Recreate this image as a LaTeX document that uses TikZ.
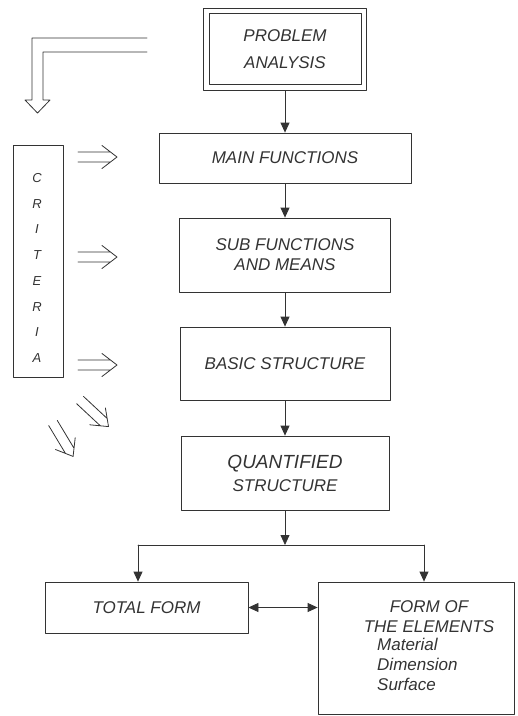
\documentclass[tikz,border=0pt]{standalone}
\usepackage{fontspec}
\setmainfont{Liberation Sans}
\usetikzlibrary{arrows.meta}
\definecolor{ink}{HTML}{333333}
\tikzset{
  ln/.style={draw=ink, line width=0.8pt, line cap=round, line join=round},
  box/.style={ln, rectangle, inner sep=0pt, text=ink, align=center,
     font=\itshape\fontsize{17}{20}\selectfont},
  arr/.style={ln, -{Triangle[length=10pt,width=9pt]}},
  arrboth/.style={ln, {Triangle[length=10pt,width=9pt]}-{Triangle[length=10pt,width=9pt]}},
  txt/.style={text=ink, inner sep=0pt, font=\itshape\fontsize{17}{20}\selectfont},
  hollowarr/.pic={\draw[ln] (0,5) -- (32.5,5) (0,-5) -- (32.5,-5) (24,11.5) -- (39,0) -- (24,-11.5);}
}
\begin{document}
\begin{tikzpicture}[x=1pt,y=-1pt]
\useasboundingbox (0,0) rectangle (518,716);
% main column
\node[box, minimum width=163pt, minimum height=82pt, align=center,
  font=\itshape\fontsize{17}{27}\selectfont] (pa) at (285,49) {PROBLEM\\ANALYSIS};
\draw[ln] ([shift={(6,-6)}]pa.south west) rectangle ([shift={(-6,6)}]pa.north east);
\node[box, minimum width=252pt, minimum height=50pt] (mf) at (285,158) {MAIN FUNCTIONS};
\node[box, minimum width=211pt, minimum height=74pt] (sf) at (285,255) {SUB FUNCTIONS\\AND MEANS};
\node[box, minimum width=210pt, minimum height=73pt] (bs) at (285,363.5) {BASIC STRUCTURE};
\node[box, minimum width=208pt, minimum height=74pt, font=\itshape\fontsize{17}{23}\selectfont] (qs) at (285,473)
  {{\fontsize{19}{23}\selectfont QUANTIFIED}\\STRUCTURE};
\draw[arr] (pa.south) -- (mf.north);
\draw[arr] (mf.south) -- (sf.north);
\draw[arr] (sf.south) -- (bs.north);
\draw[arr] (bs.south) -- (qs.north);
% bottom
\node[box, minimum width=203pt, minimum height=51pt] (tf) at (146.5,607.5) {TOTAL FORM};
\node[box, minimum width=196pt, minimum height=132pt] (fe) at (416,648) {};
\node[txt, align=center] (fet) at (429,617) {FORM OF\\THE ELEMENTS};
\node[txt, align=left, anchor=north west] (fel) at (377,638) {Material\\Dimension\\Surface};
\coordinate (j) at (285,545);
\coordinate (jl) at (138,545);
\coordinate (jr) at (424,545);
\draw[arr] (qs.south) -- (j);
\draw[ln] (jl) -- (jr);
\draw[arr] (jl) -- (jl |- tf.north);
\draw[arr] (jr) -- (jr |- fe.north);
\draw[arrboth] (tf.east) -- (fe.west |- tf.east);
% criteria
\node[box, minimum width=50pt, minimum height=232pt] (cr) at (38,261) {};
\node[txt, align=center, font=\itshape\fontsize{13}{25.7}\selectfont] (crt) at (37,268) {C\\R\\I\\T\\E\\R\\I\\A};
\pic at (78,157) {hollowarr};
\pic at (78,257) {hollowarr};
\pic at (78,365) {hollowarr};
\pic[rotate=-43] at (80,400) {hollowarr};
\pic[rotate=-59] at (53,423) {hollowarr};
% big L arrow
\draw[ln] (147,38) -- (32,38) -- (32,100) -- (25,100) -- (37.5,113) -- (50,100) -- (43,100) -- (43,52) -- (147,52);
\end{tikzpicture}
\end{document}
